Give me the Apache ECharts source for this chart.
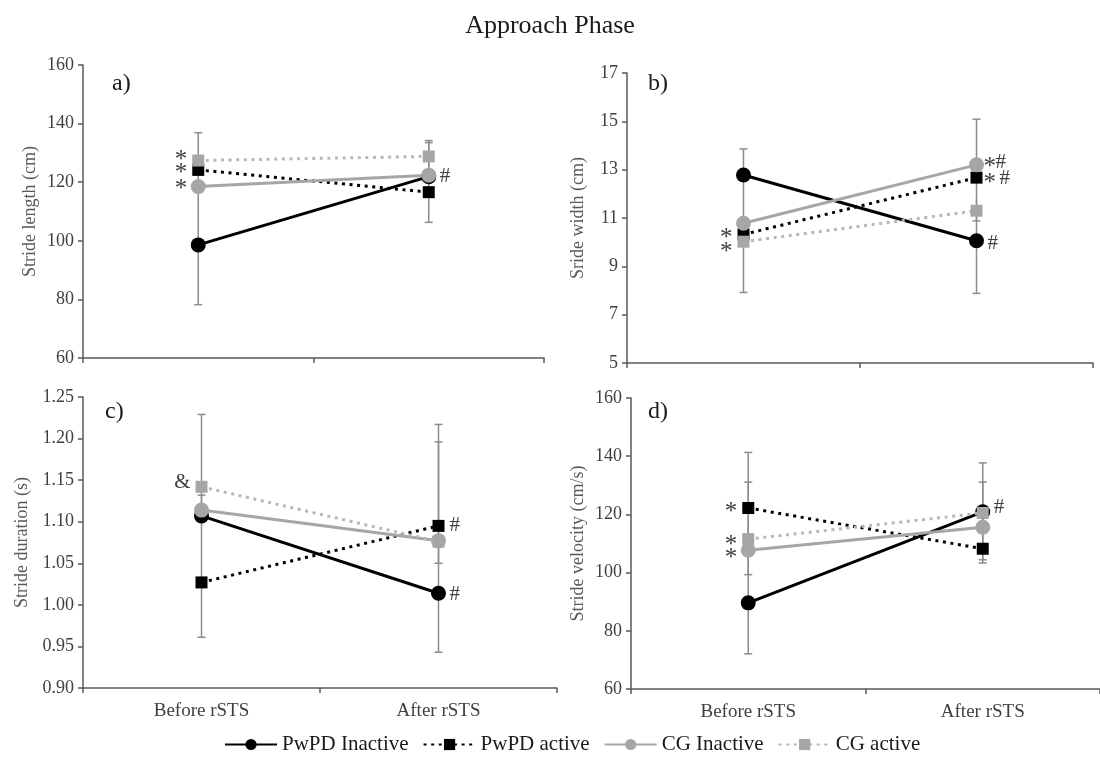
<!DOCTYPE html>
<html>
<head>
<meta charset="utf-8">
<script src="https://cdn.jsdelivr.net/npm/echarts@6/dist/echarts.min.js"></script>
<style>html,body{margin:0;padding:0;background:#fff}#c{width:1100px;height:759px}</style>
</head>
<body>
<div id="c"></div>
<script>
// ---------- data ----------
const categories = ['Before rSTS', 'After rSTS'];
const seriesNames = ['PwPD Inactive', 'PwPD active', 'CG Inactive', 'CG active'];

// a) Stride length (cm)
const lengthPwPDInactive = [98.6, 121.9];
const lengthPwPDActive   = [124.2, 116.6];
const lengthCGInactive   = [118.5, 122.4];
const lengthCGActive     = [127.4, 128.8];
const lengthErrEnds      = [[136.9, 78.2], [134.2, 133.5, 106.3]];
const lengthMarks        = [[0, 129.0, '*'], [0, 124.8, '*'], [0, 119.4, '*'], [1, 121.8, '#']];

// b) Stride width (cm)
const widthPwPDInactive = [12.78, 10.06];
const widthPwPDActive   = [10.32, 12.67];
const widthCGInactive   = [10.78, 13.2];
const widthCGActive     = [10.02, 11.3];
const widthErrEnds      = [[13.86, 7.92], [15.09, 10.88, 7.88]];
const widthMarks        = [[1, 13.3, '*#'], [1, 12.65, '* #'], [1, 9.96, '#'], [0, 10.38, '*'], [0, 9.8, '*']];

// c) Stride duration (s)
const durPwPDInactive = [1.107, 1.014];
const durPwPDActive   = [1.027, 1.095];
const durCGInactive   = [1.114, 1.077];
const durCGActive     = [1.142, 1.076];
const durErrEnds      = [[1.229, 1.132, 0.961], [1.217, 1.196, 1.05, 0.943]];
const durMarks        = [[0, 1.147, '&'], [1, 1.096, '#'], [1, 1.012, '#']];

// d) Stride velocity (cm/s)
const velPwPDInactive = [89.6, 120.9];
const velPwPDActive   = [122.2, 108.2];
const velCGInactive   = [107.7, 115.6];
const velCGActive     = [111.5, 120.5];
const velErrEnds      = [[141.3, 131.1, 99.3, 72.1], [137.7, 131.1, 104.4, 103.3]];
const velMarks        = [[0, 122.5, '*'], [0, 111.2, '*'], [0, 106.7, '*'], [1, 122.5, '#']];

const axisNames  = ['Stride length (cm)', 'Sride width (cm)', 'Stride duration (s)', 'Stride velocity (cm/s)'];
const panelTags  = ['a)', 'b)', 'c)', 'd)'];
const yRanges    = [[60, 160, 20], [5, 17, 2], [0.90, 1.25, 0.05], [60, 160, 20]];

// ---------- chart ----------
const FONT = '"Liberation Serif", "Times New Roman", serif';
const panels = [
  {vals: [lengthPwPDInactive, lengthPwPDActive, lengthCGInactive, lengthCGActive], ends: lengthErrEnds, marks: lengthMarks},
  {vals: [widthPwPDInactive, widthPwPDActive, widthCGInactive, widthCGActive], ends: widthErrEnds, marks: widthMarks},
  {vals: [durPwPDInactive, durPwPDActive, durCGInactive, durCGActive], ends: durErrEnds, marks: durMarks},
  {vals: [velPwPDInactive, velPwPDActive, velCGInactive, velCGActive], ends: velErrEnds, marks: velMarks}
];
const grids = [
  {left: 83, top: 65, width: 461, height: 293},
  {left: 627, top: 73, width: 466, height: 290},
  {left: 83, top: 397, width: 474, height: 291},
  {left: 631, top: 398, width: 476, height: 291}
];
const nameGaps = [44, 40, 52, 44];
const styles = [
  {color: '#000000', line: '#000000', type: 'solid', symbol: 'circle', size: 15},
  {color: '#000000', line: '#000000', type: [3, 4.6], symbol: 'rect', size: 12},
  {color: '#a6a6a6', line: '#a6a6a6', type: 'solid', symbol: 'circle', size: 15},
  {color: '#a6a6a6', line: '#b8b8b8', type: [3, 4.6], symbol: 'rect', size: 12}
];
const AXC = '#595959';
const xAxes = [], yAxes = [], series = [];

function glyph(ch, x, y, align) {
  const star = ch === '*';
  return {type: 'text', x: x, y: y + (star ? 5 : 0),
    style: {text: ch, fill: '#404040', font: (star ? '25px ' : '21px ') + FONT,
      align: align, verticalAlign: 'middle'}};
}
const advance = {'*': 12, '#': 11, ' ': 4, '&': 16};

grids.forEach((g, i) => {
  const bottomRow = i >= 2;
  xAxes.push({
    type: 'category', gridIndex: i, data: categories, boundaryGap: true,
    axisLine: {lineStyle: {color: AXC, width: 1.5}},
    axisTick: {show: true, length: 5, lineStyle: {color: AXC, width: 1.5}},
    axisLabel: {show: bottomRow, fontFamily: FONT, fontSize: 19, color: '#404040', margin: 14},
    splitLine: {show: false}
  });
  const r = yRanges[i];
  yAxes.push({
    type: 'value', gridIndex: i, min: r[0], max: r[1], interval: r[2],
    name: axisNames[i], nameLocation: 'middle', nameGap: nameGaps[i],
    nameTextStyle: {fontFamily: FONT, fontSize: 18, color: '#595959'},
    axisLine: {show: true, lineStyle: {color: AXC, width: 1.5}},
    axisTick: {show: true, length: 5, lineStyle: {color: AXC, width: 1.5}},
    axisLabel: {fontFamily: FONT, fontSize: 18, color: '#404040', margin: 9,
      formatter: v => i === 2 ? v.toFixed(2) : String(Math.round(v))},
    splitLine: {show: false}
  });
  const p = panels[i];
  // error bars
  const errData = [];
  p.ends.forEach((list, cat) => {
    const anchor = p.vals.reduce((s, arr) => s + arr[cat], 0) / p.vals.length;
    list.forEach(e => errData.push([cat, e, anchor]));
  });
  series.push({
    type: 'custom', name: 'err' + i, xAxisIndex: i, yAxisIndex: i, silent: true, z: 1,
    data: errData, encode: {x: 0, y: 1},
    renderItem: (params, api) => {
      const a = api.coord([api.value(0), api.value(2)]);
      const b = api.coord([api.value(0), api.value(1)]);
      const st = {stroke: '#8c8c8c', lineWidth: 1.5};
      return {type: 'group', children: [
        {type: 'line', shape: {x1: a[0], y1: a[1], x2: b[0], y2: b[1]}, style: st},
        {type: 'line', shape: {x1: b[0] - 4, y1: b[1], x2: b[0] + 4, y2: b[1]}, style: st}
      ]};
    }
  });
  // lines
  seriesNames.forEach((n, k) => {
    const s = styles[k];
    series.push({
      name: n, type: 'line', xAxisIndex: i, yAxisIndex: i, data: p.vals[k],
      symbol: s.symbol, symbolSize: s.size, z: 3 + k,
      lineStyle: {color: s.line, width: 3, type: s.type},
      itemStyle: {color: s.color}, emphasis: {disabled: true}, animation: false
    });
  });
  // annotations
  const marks = p.marks;
  series.push({
    type: 'custom', name: 'ann' + i, xAxisIndex: i, yAxisIndex: i, silent: true, z: 10,
    data: marks.map(m => [m[0], m[1]]), encode: {x: 0, y: 1},
    renderItem: (params, api) => {
      const m = marks[params.dataIndex];
      const c = api.coord([m[0], m[1]]);
      if (m[0] === 0) {
        return {type: 'group', children: [glyph(m[2], c[0] - 11, c[1], 'right')]};
      }
      const children = [];
      let x = c[0] + (m[2].charAt(0) === '*' ? 7 : 11);
      for (const ch of m[2]) {
        if (ch !== ' ') children.push(glyph(ch, x, c[1], 'left'));
        x += advance[ch] || 10;
      }
      return {type: 'group', children: children};
    }
  });
});

const tagPos = [[112, 85], [648, 85], [105, 413], [648, 413]];
const option = {
  animation: false,
  backgroundColor: '#ffffff',
  title: {text: 'Approach Phase', left: 'center', top: 8,
    textStyle: {fontFamily: FONT, fontSize: 26, fontWeight: 'normal', color: '#1a1a1a'}},
  legend: {data: seriesNames, left: 219, top: 729, itemWidth: 52, itemHeight: 14, itemGap: 14,
    textStyle: {fontFamily: FONT, fontSize: 21, color: '#1a1a1a'}},
  graphic: panelTags.map((t, i) => ({type: 'text', left: tagPos[i][0], top: tagPos[i][1] - 13,
    style: {text: t, font: '24px ' + FONT, fill: '#1a1a1a'}})),
  grid: grids,
  xAxis: xAxes,
  yAxis: yAxes,
  series: series
};
const chart = echarts.init(document.getElementById('c'), null, {renderer: 'canvas'});
chart.setOption(option);
</script>
</body>
</html>
